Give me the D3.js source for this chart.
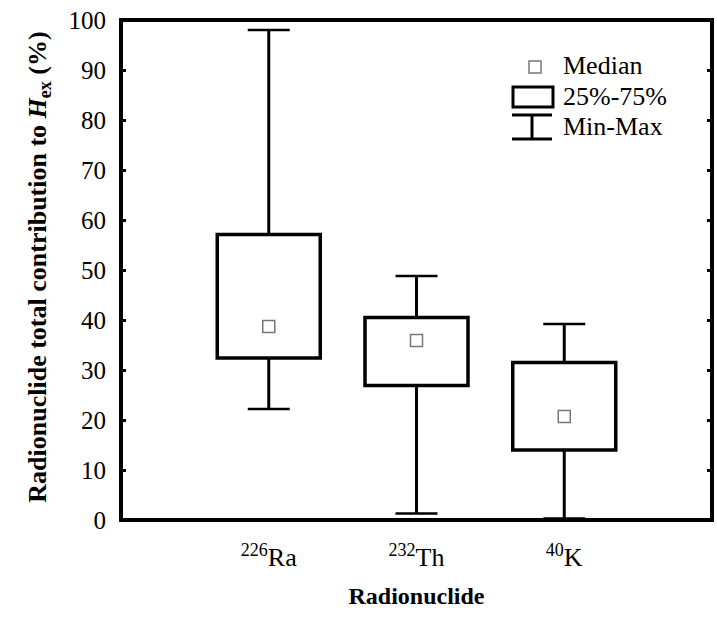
<!DOCTYPE html>
<html>
<head>
<meta charset="utf-8">
<script src="https://cdn.jsdelivr.net/npm/d3@7"></script>
</head>
<body style="margin:0; background:#fff">
<svg id="chart" width="717" height="619" style="display:block"></svg>
<script>
// Data
const massNumbers = ["226", "232", "40"];
const symbols = ["Ra", "Th", "K"];
const minVals = [22.2, 1.3, 0.3];
const q1Vals = [32.4, 26.9, 14.0];
const medianVals = [38.7, 35.9, 20.7];
const q3Vals = [57.1, 40.5, 31.5];
const maxVals = [98.0, 48.8, 39.2];
const yTicks = [0, 10, 20, 30, 40, 50, 60, 70, 80, 90, 100];
const legendLabels = ["Median", "25%-75%", "Min-Max"];

const data = symbols.map((s, i) => ({
    key: s,
    mass: massNumbers[i],
    min: minVals[i], q1: q1Vals[i], median: medianVals[i], q3: q3Vals[i], max: maxVals[i]
}));

const FONT = "'Liberation Serif'";

// Size settings
const margin = {top: 20, left: 121};
const svg = d3.select("#chart").style("font-family", FONT);
const plotW = 712 - margin.left;
const plotH = 520 - margin.top;

const g = svg.append("g").attr("transform", `translate(${margin.left},${margin.top})`);

// Scales
const x = d3.scalePoint().domain(symbols).range([0, plotW]).padding(1);
const y = d3.scaleLinear().domain([0, 100]).range([plotH, 0]);

const boxW = 103;
const capW = 42;

// Axes (ticks pointing inward)
const yAxis = g.append("g")
    .call(d3.axisLeft(y).tickValues(yTicks).tickSize(-5).tickPadding(15));
yAxis.select(".domain").remove();
yAxis.selectAll(".tick line").attr("stroke", "#000").attr("stroke-width", 3);
yAxis.selectAll(".tick text")
    .style("font-family", FONT)
    .attr("font-size", 25)
    .attr("fill", "#000");

const yAxisR = g.append("g")
    .attr("transform", `translate(${plotW},0)`)
    .call(d3.axisRight(y).tickValues(yTicks).tickSize(-5).tickFormat(""));
yAxisR.select(".domain").remove();
yAxisR.selectAll(".tick line").attr("stroke", "#000").attr("stroke-width", 3);

// Boxes
const boxes = g.selectAll(".box").data(data).enter().append("g").attr("class", "box");

boxes.append("line")
    .attr("x1", d => x(d.key)).attr("x2", d => x(d.key))
    .attr("y1", d => y(d.max)).attr("y2", d => y(d.q3))
    .attr("stroke", "#000").attr("stroke-width", 3);
boxes.append("line")
    .attr("x1", d => x(d.key)).attr("x2", d => x(d.key))
    .attr("y1", d => y(d.q1)).attr("y2", d => y(d.min))
    .attr("stroke", "#000").attr("stroke-width", 3);
boxes.append("line")
    .attr("x1", d => x(d.key) - capW / 2).attr("x2", d => x(d.key) + capW / 2)
    .attr("y1", d => y(d.max)).attr("y2", d => y(d.max))
    .attr("stroke", "#000").attr("stroke-width", 2.5);
boxes.append("line")
    .attr("x1", d => x(d.key) - capW / 2).attr("x2", d => x(d.key) + capW / 2)
    .attr("y1", d => y(d.min)).attr("y2", d => y(d.min))
    .attr("stroke", "#000").attr("stroke-width", 2.5);
boxes.append("rect")
    .attr("x", d => x(d.key) - boxW / 2)
    .attr("y", d => y(d.q3))
    .attr("width", boxW)
    .attr("height", d => y(d.q1) - y(d.q3))
    .attr("fill", "#fff").attr("stroke", "#000").attr("stroke-width", 3.5);
boxes.append("rect")
    .attr("x", d => x(d.key) - 6)
    .attr("y", d => y(d.median) - 6)
    .attr("width", 12).attr("height", 12)
    .attr("fill", "#fff").attr("stroke", "#777").attr("stroke-width", 1.5);

// Frame
g.append("rect")
    .attr("width", plotW).attr("height", plotH)
    .attr("fill", "none").attr("stroke", "#000").attr("stroke-width", 4);

// X tick labels with superscript mass numbers
const xLab = g.selectAll(".xlab").data(data).enter().append("text")
    .attr("class", "xlab")
    .style("font-family", FONT)
    .attr("x", d => x(d.key))
    .attr("y", 546)
    .attr("text-anchor", "middle")
    .attr("font-size", 26);
xLab.append("tspan").attr("font-size", 18).attr("dy", -10).text(d => d.mass);
xLab.append("tspan").attr("dy", 10).text(d => d.key);

// Axis titles
g.append("text")
    .style("font-family", FONT)
    .attr("x", plotW / 2)
    .attr("y", 584)
    .attr("text-anchor", "middle")
    .attr("font-weight", "bold")
    .attr("font-size", 24)
    .text("Radionuclide");

const yTitle = svg.append("text")
    .style("font-family", FONT)
    .attr("transform", `translate(46,267) rotate(-90)`)
    .attr("text-anchor", "middle")
    .attr("font-weight", "bold")
    .attr("font-size", 26);
yTitle.append("tspan").text("Radionuclide total contribution to ");
yTitle.append("tspan").attr("font-style", "italic").text("H");
yTitle.append("tspan").attr("font-size", 18).attr("dy", 5).text("ex");
yTitle.append("tspan").attr("dy", -5).text(" (%)");

// Legend
const legend = svg.append("g");
legend.append("rect").attr("x", 529).attr("y", 61).attr("width", 12).attr("height", 12)
    .attr("fill", "#fff").attr("stroke", "#777").attr("stroke-width", 1.5);
legend.append("rect").attr("x", 513).attr("y", 87).attr("width", 40).attr("height", 20)
    .attr("fill", "#fff").attr("stroke", "#000").attr("stroke-width", 3);
legend.append("line").attr("x1", 512).attr("x2", 552).attr("y1", 115).attr("y2", 115)
    .attr("stroke", "#000").attr("stroke-width", 3);
legend.append("line").attr("x1", 512).attr("x2", 552).attr("y1", 139).attr("y2", 139)
    .attr("stroke", "#000").attr("stroke-width", 3);
legend.append("line").attr("x1", 532).attr("x2", 532).attr("y1", 115).attr("y2", 139)
    .attr("stroke", "#000").attr("stroke-width", 3);
const legendY = [74, 105, 135];
legend.selectAll(".ltext").data(legendLabels).enter().append("text")
    .style("font-family", FONT)
    .attr("x", 563)
    .attr("y", (d, i) => legendY[i])
    .attr("font-size", 26)
    .text(d => d);
</script>
</body>
</html>
